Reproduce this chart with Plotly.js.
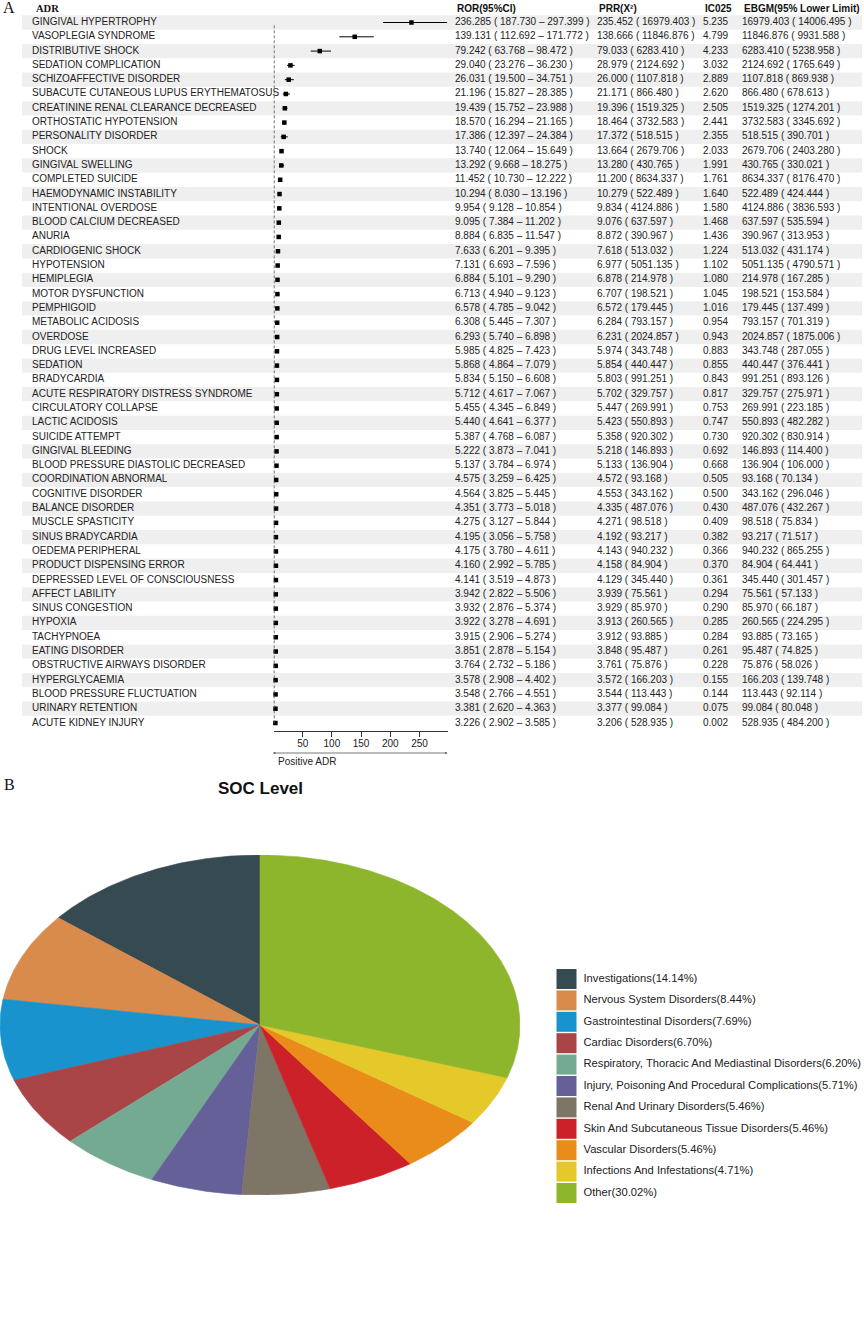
<!DOCTYPE html>
<html><head><meta charset="utf-8">
<script src="https://cdn.plot.ly/plotly-3.0.1.min.js"></script>
<style>html,body{margin:0;padding:0;background:#fff}#chart{width:864px;height:1321px}</style>
</head><body><div id="chart"></div>
<script>
const adr = ["GINGIVAL HYPERTROPHY","VASOPLEGIA SYNDROME","DISTRIBUTIVE SHOCK","SEDATION COMPLICATION","SCHIZOAFFECTIVE DISORDER","SUBACUTE CUTANEOUS LUPUS ERYTHEMATOSUS","CREATININE RENAL CLEARANCE DECREASED","ORTHOSTATIC HYPOTENSION","PERSONALITY DISORDER","SHOCK","GINGIVAL SWELLING","COMPLETED SUICIDE","HAEMODYNAMIC INSTABILITY","INTENTIONAL OVERDOSE","BLOOD CALCIUM DECREASED","ANURIA","CARDIOGENIC SHOCK","HYPOTENSION","HEMIPLEGIA","MOTOR DYSFUNCTION","PEMPHIGOID","METABOLIC ACIDOSIS","OVERDOSE","DRUG LEVEL INCREASED","SEDATION","BRADYCARDIA","ACUTE RESPIRATORY DISTRESS SYNDROME","CIRCULATORY COLLAPSE","LACTIC ACIDOSIS","SUICIDE ATTEMPT","GINGIVAL BLEEDING","BLOOD PRESSURE DIASTOLIC DECREASED","COORDINATION ABNORMAL","COGNITIVE DISORDER","BALANCE DISORDER","MUSCLE SPASTICITY","SINUS BRADYCARDIA","OEDEMA PERIPHERAL","PRODUCT DISPENSING ERROR","DEPRESSED LEVEL OF CONSCIOUSNESS","AFFECT LABILITY","SINUS CONGESTION","HYPOXIA","TACHYPNOEA","EATING DISORDER","OBSTRUCTIVE AIRWAYS DISORDER","HYPERGLYCAEMIA","BLOOD PRESSURE FLUCTUATION","URINARY RETENTION","ACUTE KIDNEY INJURY"];
const ror = [236.285,139.131,79.242,29.040,26.031,21.196,19.439,18.570,17.386,13.740,13.292,11.452,10.294,9.954,9.095,8.884,7.633,7.131,6.884,6.713,6.578,6.308,6.293,5.985,5.868,5.834,5.712,5.455,5.440,5.387,5.222,5.137,4.575,4.564,4.351,4.275,4.195,4.175,4.160,4.141,3.942,3.932,3.922,3.915,3.851,3.764,3.578,3.548,3.381,3.226];
const rorLow = [187.730,112.692,63.768,23.276,19.500,15.827,15.752,16.294,12.397,12.064,9.668,10.730,8.030,9.128,7.384,6.835,6.201,6.693,5.101,4.940,4.785,5.445,5.740,4.825,4.864,5.150,4.617,4.345,4.641,4.768,3.873,3.784,3.259,3.825,3.773,3.127,3.056,3.780,2.992,3.519,2.822,2.876,3.278,2.906,2.878,2.732,2.908,2.766,2.620,2.902];
const rorHigh = [297.399,171.772,98.472,36.230,34.751,28.385,23.988,21.165,24.384,15.649,18.275,12.222,13.196,10.854,11.202,11.547,9.395,7.596,9.290,9.123,9.042,7.307,6.898,7.423,7.079,6.608,7.067,6.849,6.377,6.087,7.041,6.974,6.425,5.445,5.018,5.844,5.758,4.611,5.785,4.873,5.506,5.374,4.691,5.274,5.154,5.186,4.402,4.551,4.363,3.585];
const prr = [235.452,138.666,79.033,28.979,26.000,21.171,19.396,18.464,17.372,13.664,13.280,11.200,10.279,9.834,9.076,8.872,7.618,6.977,6.878,6.707,6.572,6.284,6.231,5.974,5.854,5.803,5.702,5.447,5.423,5.358,5.218,5.133,4.572,4.553,4.335,4.271,4.192,4.143,4.158,4.129,3.939,3.929,3.913,3.912,3.848,3.761,3.572,3.544,3.377,3.206];
const chi2 = [16979.403,11846.876,6283.410,2124.692,1107.818,866.480,1519.325,3732.583,518.515,2679.706,430.765,8634.337,522.489,4124.886,637.597,390.967,513.032,5051.135,214.978,198.521,179.445,793.157,2024.857,343.748,440.447,991.251,329.757,269.991,550.893,920.302,146.893,136.904,93.168,343.162,487.076,98.518,93.217,940.232,84.904,345.440,75.561,85.970,260.565,93.885,95.487,75.876,166.203,113.443,99.084,528.935];
const ic025 = [5.235,4.799,4.233,3.032,2.889,2.620,2.505,2.441,2.355,2.033,1.991,1.761,1.640,1.580,1.468,1.436,1.224,1.102,1.080,1.045,1.016,0.954,0.943,0.883,0.855,0.843,0.817,0.753,0.747,0.730,0.692,0.668,0.505,0.500,0.430,0.409,0.382,0.366,0.370,0.361,0.294,0.290,0.285,0.284,0.261,0.228,0.155,0.144,0.075,0.002];
const ebgm = [16979.403,11846.876,6283.410,2124.692,1107.818,866.480,1519.325,3732.583,518.515,2679.706,430.765,8634.337,522.489,4124.886,637.597,390.967,513.032,5051.135,214.978,198.521,179.445,793.157,2024.857,343.748,440.447,991.251,329.757,269.991,550.893,920.302,146.893,136.904,93.168,343.162,487.076,98.518,93.217,940.232,84.904,345.440,75.561,85.970,260.565,93.885,95.487,75.876,166.203,113.443,99.084,528.935];
const ebgmLow = [14006.495,9931.588,5238.958,1765.649,869.938,678.613,1274.201,3345.692,390.701,2403.280,330.021,8176.470,424.444,3836.593,535.594,313.953,431.174,4790.571,167.285,153.584,137.499,701.319,1875.006,287.055,376.441,893.126,275.971,223.185,482.282,830.914,114.400,106.000,70.134,296.046,432.267,75.834,71.517,865.255,64.441,301.457,57.133,66.187,224.295,73.165,74.825,58.026,139.748,92.114,80.048,484.200];
const headers = ["ROR(95%CI)","PRR(X²)","IC025","EBGM(95% Lower Limit)"];
const forestTicks = [50,100,150,200,250];

const socLabels = ["Investigations","Nervous System Disorders","Gastrointestinal Disorders","Cardiac Disorders","Respiratory, Thoracic And Mediastinal Disorders","Injury, Poisoning And Procedural Complications","Renal And Urinary Disorders","Skin And Subcutaneous Tissue Disorders","Vascular Disorders","Infections And Infestations","Other"];
const socPct = [14.14,8.44,7.69,6.70,6.20,5.71,5.46,5.46,5.46,4.71,30.02];
const socColors = ["#364a52","#d88b4b","#1893cd","#a94546","#75aa92","#666099","#7d7667","#cc2128","#ea8c1a","#e5c92b","#8db62d"];

// ---- layout geometry (pixels) ----
const W = 864, H = 1321;
const rowTop = 22.5, rowStep = 14.296, tableBottom = 731;
const py = p => 1 - p / H;
const font = "Liberation Sans, Arial, sans-serif";
const serif = "Liberation Serif, Times New Roman, serif";
const n = adr.length;
const rowIdx = adr.map((_, i) => i + 1);
const yTop = 1 - rowTop / rowStep;
const yBot = 1 + (tableBottom - rowTop) / rowStep;
const col = {name: 32, ror: 455, prr: 597, ic: 703, ebgm: 742};
const f3 = v => v.toFixed(3);

const traces = [];
// forest plot
traces.push({
  type: 'scatter', mode: 'markers', x: ror, y: rowIdx, xaxis: 'x', yaxis: 'y',
  marker: {symbol: 'square', size: 4.5, color: '#000'},
  error_x: {type: 'data', symmetric: false,
    array: ror.map((v, i) => rorHigh[i] - v), arrayminus: ror.map((v, i) => v - rorLow[i]),
    color: '#000', thickness: 1, width: 0},
  hoverinfo: 'skip', cliponaxis: false
});
function textCol(xpx, texts) {
  return {type: 'scatter', mode: 'text', x: texts.map(() => xpx), y: rowIdx, xaxis: 'x2', yaxis: 'y',
    text: texts, textposition: 'middle right', textfont: {family: font, size: 10, color: '#222'},
    hoverinfo: 'skip', cliponaxis: false};
}
traces.push(textCol(col.name, adr));
traces.push(textCol(col.ror, ror.map((v, i) => f3(v) + ' ( ' + f3(rorLow[i]) + ' – ' + f3(rorHigh[i]) + ' )')));
traces.push(textCol(col.prr, prr.map((v, i) => f3(v) + ' ( ' + f3(chi2[i]) + ' )')));
traces.push(textCol(col.ic, ic025.map(f3)));
traces.push(textCol(col.ebgm, ebgm.map((v, i) => f3(v) + ' ( ' + f3(ebgmLow[i]) + ' )')));

// pie drawn as filled sectors on an unconstrained (elliptical) axis pair
const total = socPct.reduce((a, b) => a + b, 0);
let cum = 0;
socPct.forEach((p, k) => {
  const f0 = cum / total, f1 = (cum + p) / total;
  cum += p;
  const steps = Math.max(2, Math.ceil((f1 - f0) * 720));
  const xs = [0], ys = [0];
  for (let s = 0; s <= steps; s++) {
    const th = Math.PI / 2 + 2 * Math.PI * (f0 + (f1 - f0) * s / steps);
    xs.push(Math.cos(th)); ys.push(Math.sin(th));
  }
  xs.push(0); ys.push(0);
  traces.push({type: 'scatter', mode: 'lines', x: xs, y: ys, xaxis: 'x3', yaxis: 'y3',
    fill: 'toself', fillcolor: socColors[k], line: {color: socColors[k], width: 0.6},
    hoverinfo: 'skip'});
});

// legend
const legTop = 979, legStep = 21.4;
const legY = socLabels.map((_, k) => legTop + k * legStep);
traces.push({type: 'scatter', mode: 'markers', x: socLabels.map(() => 566.5), y: legY,
  xaxis: 'x4', yaxis: 'y4', marker: {symbol: 'square', size: 20, color: socColors},
  hoverinfo: 'skip', cliponaxis: false});
traces.push({type: 'scatter', mode: 'text', x: socLabels.map(() => 583.5), y: legY,
  xaxis: 'x4', yaxis: 'y4', text: socLabels.map((l, k) => l + '(' + socPct[k].toFixed(2) + '%)'),
  textposition: 'middle right', textfont: {family: font, size: 11.2, color: '#222'},
  hoverinfo: 'skip', cliponaxis: false});

const shapes = [];
rowIdx.forEach(i => {
  if (i % 2 === 1) shapes.push({type: 'rect', xref: 'paper', yref: 'y', x0: 22 / W, x1: 862 / W,
    y0: i - 0.5, y1: i + 0.5, fillcolor: '#efefef', line: {width: 0}, layer: 'below'});
});
shapes.push({type: 'line', xref: 'x', yref: 'y', x0: 1, x1: 1, y0: 1.2, y1: n + 0.1,
  line: {color: '#555', width: 1, dash: '3px,2px'}});

const annotations = [
  {text: 'A', xref: 'paper', yref: 'paper', x: 1 / W, y: py(8), xanchor: 'left', yanchor: 'middle', showarrow: false, font: {family: serif, size: 16, color: '#111'}},
  {text: 'B', xref: 'paper', yref: 'paper', x: 2 / W, y: py(784), xanchor: 'left', yanchor: 'middle', showarrow: false, font: {family: serif, size: 16, color: '#111'}},
  {text: '<b>ADR</b>', xref: 'x2', yref: 'y', x: col.name + 2, y: 0, xanchor: 'left', yanchor: 'middle', showarrow: false, font: {family: serif, size: 10.5, color: '#111'}},
  {text: 'SOC Level', xref: 'paper', yref: 'paper', x: 260 / W, y: py(788), xanchor: 'center', yanchor: 'middle', showarrow: false, font: {family: font, size: 17, color: '#111', weight: 'bold'}},
  {text: '', xref: 'x', yref: 'paper', x: 298, y: py(753), ax: -176, ay: 0, axref: 'pixel', ayref: 'pixel', showarrow: true, arrowside: 'end+start', arrowhead: 2, arrowsize: 0.6, arrowwidth: 0.8, arrowcolor: '#555'},
  {text: 'Positive ADR', xref: 'paper', yref: 'paper', x: 276 / W, y: py(761), xanchor: 'left', yanchor: 'middle', showarrow: false, font: {family: font, size: 10, color: '#222'}}
];
[col.ror, col.prr, col.ic, col.ebgm].forEach((x, k) => {
  annotations.push({text: '<b>' + headers[k] + '</b>', xref: 'x2', yref: 'y', x: x, y: 0, xanchor: 'left', yanchor: 'middle', showarrow: false, font: {family: font, size: 10, color: '#111'}});
});

const hidden = {visible: false, fixedrange: true};
const layout = {
  width: W, height: H, margin: {l: 0, r: 0, t: 0, b: 0},
  paper_bgcolor: '#fff', plot_bgcolor: 'rgba(0,0,0,0)', showlegend: false, hovermode: false,
  xaxis: {domain: [273.5 / W, 447.5 / W], range: [0, 298], anchor: 'y', showline: true, linecolor: '#333', linewidth: 1,
    ticks: 'outside', ticklen: 5, tickcolor: '#333', tickvals: forestTicks, showgrid: false, zeroline: false,
    ticklabelstandoff: -2, tickfont: {family: font, size: 10, color: '#222'}, fixedrange: true},
  yaxis: Object.assign({domain: [py(tableBottom), 1], range: [yBot, yTop], anchor: 'x'}, hidden),
  xaxis2: Object.assign({domain: [0, 1], range: [0, W], anchor: 'y'}, hidden),
  xaxis3: Object.assign({domain: [0, 520 / W], range: [-1, 1], anchor: 'y3'}, hidden),
  yaxis3: Object.assign({domain: [py(1195), py(855)], range: [-1, 1], anchor: 'x3'}, hidden),
  xaxis4: Object.assign({domain: [0, 1], range: [0, W], anchor: 'y4'}, hidden),
  yaxis4: Object.assign({domain: [0, 1], range: [H, 0], anchor: 'x4'}, hidden),
  shapes: shapes, annotations: annotations
};
Plotly.newPlot('chart', traces, layout, {staticPlot: true, displayModeBar: false});
</script></body></html>
